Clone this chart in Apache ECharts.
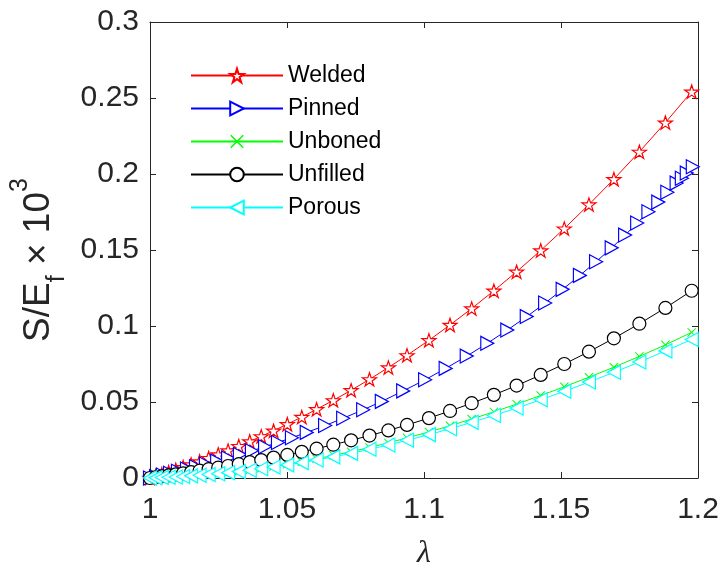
<!DOCTYPE html>
<html><head><meta charset="utf-8">
<script src="https://cdn.jsdelivr.net/npm/echarts@6/dist/echarts.min.js"></script>
<style>html,body{margin:0;padding:0;background:#fff}#c{width:722px;height:563px}</style>
</head><body><div id="c"></div>
<script>
// Common stretch sampling (Welded, Unboned, Unfilled, Porous)
const lambda = [1.0000,1.0020,1.0043,1.0068,1.0094,1.0121,1.0150,1.0181,1.0214,1.0249,1.0285,1.0324,1.0364,1.0406,1.0451,1.0501,1.0554,1.0608,1.0669,1.0734,1.0801,1.0870,1.0938,1.1018,1.1095,1.1174,1.1255,1.1338,1.1426,1.1512,1.1602,1.1693,1.1786,1.1881,1.1977];
const welded   = [0,0.0011,0.0024,0.0039,0.0054,0.0071,0.0089,0.0109,0.0131,0.0155,0.0181,0.0210,0.0241,0.0274,0.0311,0.0354,0.0401,0.0452,0.0511,0.0577,0.0649,0.0727,0.0807,0.0906,0.1007,0.1115,0.1232,0.1357,0.1497,0.1641,0.1799,0.1966,0.2146,0.2338,0.2542];
const unboned  = [0,0.0001,0.0003,0.0005,0.0007,0.0010,0.0014,0.0018,0.0024,0.0029,0.0036,0.0044,0.0053,0.0064,0.0076,0.0091,0.0107,0.0126,0.0149,0.0173,0.0201,0.0231,0.0264,0.0303,0.0344,0.0388,0.0435,0.0486,0.0543,0.0600,0.0663,0.0729,0.0800,0.0876,0.0958];
const unfilled = [0,0.0005,0.0011,0.0017,0.0024,0.0031,0.0039,0.0048,0.0058,0.0068,0.0079,0.0091,0.0104,0.0118,0.0134,0.0152,0.0172,0.0193,0.0219,0.0248,0.0279,0.0313,0.0349,0.0394,0.0441,0.0492,0.0547,0.0608,0.0678,0.0750,0.0831,0.0919,0.1015,0.1119,0.1232];
const porous   = [0,0.0001,0.0003,0.0005,0.0007,0.0010,0.0014,0.0018,0.0023,0.0028,0.0035,0.0042,0.0051,0.0061,0.0072,0.0086,0.0101,0.0118,0.0139,0.0162,0.0189,0.0217,0.0248,0.0285,0.0324,0.0366,0.0411,0.0460,0.0515,0.0570,0.0631,0.0695,0.0763,0.0836,0.0911];
// Pinned has its own stretch sampling
const lambdaPinned = [1.0000,1.0022,1.0047,1.0073,1.0102,1.0135,1.0168,1.0204,1.0245,1.0285,1.0328,1.0372,1.0420,1.0467,1.0518,1.0572,1.0639,1.0705,1.0778,1.0846,1.0924,1.1004,1.1079,1.1156,1.1231,1.1304,1.1375,1.1442,1.1506,1.1569,1.1628,1.1685,1.1734,1.1778,1.1819,1.1855,1.1888,1.1922,1.1941,1.1959,1.1981];
const pinned = [0,0.0009,0.0020,0.0031,0.0044,0.0059,0.0074,0.0092,0.0111,0.0132,0.0155,0.0179,0.0206,0.0234,0.0265,0.0300,0.0345,0.0393,0.0449,0.0504,0.0573,0.0646,0.0721,0.0802,0.0886,0.0973,0.1062,0.1151,0.1241,0.1333,0.1423,0.1514,0.1598,0.1678,0.1752,0.1815,0.1880,0.1940,0.1972,0.2006,0.2048];
const seriesNames = ['Welded','Pinned','Unboned','Unfilled','Porous'];
const xTicks = {min:1, max:1.2, interval:0.05};
const yTicks = {min:0, max:0.3, interval:0.05};

const AX = '#262626';
const FONT = '"Liberation Sans", Arial, Helvetica, sans-serif';
const star  = 'path://M50,2L61.2,36.5L97.6,36.5L68.2,57.9L79.4,92.5L50,71.1L20.6,92.5L31.8,57.9L2.4,36.5L38.8,36.5Z';
const triR  = 'path://M0,0L20,10L0,20Z';
const triL  = 'path://M20,0L0,10L20,20Z';
const cross = 'path://M0,1.6L1.6,0L10,8.4L18.4,0L20,1.6L11.6,10L20,18.4L18.4,20L10,11.6L1.6,20L0,18.4L8.4,10Z';

function mk(name, xs, ys, color, symbol, size, fill, border) {
  return {
    type: 'line', name: name,
    data: xs.map((x, i) => [x, ys[i]]),
    symbol: symbol, symbolSize: size, symbolKeepAspect: true, showAllSymbol: true,
    lineStyle: {color: color, width: 1},
    itemStyle: {color: fill, borderColor: color, borderWidth: border},
    emphasis: {disabled: true}, animation: false, clip: true
  };
}

const axisCommon = {
  axisLine: {show: true, onZero: false, lineStyle: {color: AX, width: 1}},
  axisTick: {show: true, inside: true, length: 6, lineStyle: {color: AX, width: 1}},
  splitLine: {show: false}
};

const chart = echarts.init(document.getElementById('c'));
chart.setOption({
  backgroundColor: '#fff',
  animation: false,
  grid: {left: 150, right: 24, top: 22, bottom: 85, containLabel: false, outerBoundsMode: 'none'},
  legend: {
    data: seriesNames, orient: 'vertical', left: 190, top: 64,
    itemWidth: 92, itemHeight: 17, itemGap: 10, padding: 0,
    textStyle: {fontSize: 23, color: '#000', fontFamily: FONT},
    selectedMode: false
  },
  xAxis: [
    Object.assign({type: 'value', position: 'bottom', min: xTicks.min, max: xTicks.max, interval: xTicks.interval,
      axisLabel: {fontSize: 30, color: AX, fontFamily: FONT, margin: 17},
      name: 'λ', nameLocation: 'middle', nameGap: 60,
      nameTextStyle: {fontSize: 32, color: AX, fontFamily: '"Liberation Serif", "DejaVu Serif", serif', fontStyle: 'italic'}
    }, axisCommon),
    Object.assign({type: 'value', position: 'top', min: xTicks.min, max: xTicks.max, interval: xTicks.interval,
      axisLabel: {show: false}}, axisCommon)
  ],
  yAxis: [
    Object.assign({type: 'value', position: 'left', min: yTicks.min, max: yTicks.max, interval: yTicks.interval,
      axisLabel: {fontSize: 30, color: AX, fontFamily: FONT, margin: 11},
      name: '{m|S/E}{s|f}{m| × 10}{p|3}', nameLocation: 'middle', nameRotate: 90, nameGap: 78,
      nameTextStyle: {
        rich: {
          m: {fontSize: 37, color: AX, fontFamily: FONT, lineHeight: 62},
          s: {fontSize: 25, color: AX, fontFamily: FONT, lineHeight: 25, verticalAlign: 'bottom'},
          p: {fontSize: 25, color: AX, fontFamily: FONT, lineHeight: 30, verticalAlign: 'top', padding: [0, 20, 0, 0]}
        }
      }
    }, axisCommon),
    Object.assign({type: 'value', position: 'right', min: yTicks.min, max: yTicks.max, interval: yTicks.interval,
      axisLabel: {show: false}}, axisCommon)
  ],
  series: [
    mk('Welded', lambda, welded, '#ff0000', star, 14, '#ffffff', 1.2),
    mk('Pinned', lambdaPinned, pinned, '#0000ff', triR, [13, 14], '#ffffff', 1.2),
    mk('Unboned', lambda, unboned, '#00ff00', cross, 9, '#00ff00', 0),
    mk('Unfilled', lambda, unfilled, '#000000', 'circle', 13, '#ffffff', 1.2),
    mk('Porous', lambda, porous, '#00ffff', triL, [13, 14], '#ffffff', 1.2)
  ]
});
</script>
</body></html>
